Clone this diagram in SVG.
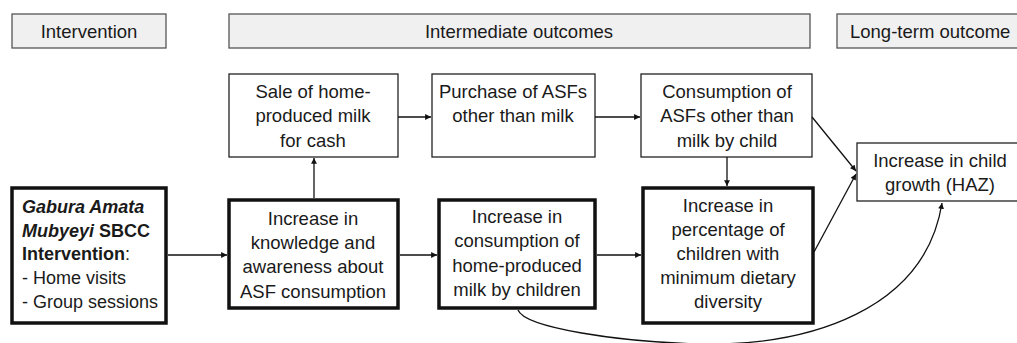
<svg xmlns="http://www.w3.org/2000/svg" width="1017" height="343" viewBox="0 0 1017 343">
<defs>
<style>
text{font-family:"Liberation Sans",Arial,sans-serif;font-size:18.5px;fill:#1a1a1a}
.c{text-anchor:middle}
.hdr{fill:#f0f0f0;stroke:#555;stroke-width:1.3}
.thin{fill:#fff;stroke:#222;stroke-width:1.3}
.thick{fill:#fff;stroke:#111;stroke-width:3.5}
.conn{fill:none;stroke:#111;stroke-width:1.3;marker-end:url(#ah)}
.b{font-weight:bold}
.bi{font-weight:bold;font-style:italic}
.sm{font-size:18px}
</style>
<marker id="ah" viewBox="0 0 10 10" refX="10" refY="5" markerWidth="5" markerHeight="4.5" orient="auto" markerUnits="strokeWidth">
<path d="M0,0 L10,5 L0,10 z" fill="#111"/>
</marker>
</defs>
<rect width="1017" height="343" fill="#fff"/>

<g id="hdr-intervention">
<rect class="hdr" x="12" y="14" width="154" height="34"/>
<text class="c" x="89" y="38">Intervention</text>
</g>
<g id="hdr-intermediate">
<rect class="hdr" x="229" y="14" width="581" height="34"/>
<text class="c" x="519" y="38">Intermediate outcomes</text>
</g>
<g id="hdr-longterm">
<rect class="hdr" x="837" y="14" width="200" height="34"/>
<text x="850" y="38">Long-term outcome</text>
</g>

<g id="n-sale">
<rect class="thin" x="229" y="74" width="169" height="83"/>
<text class="c" x="313" y="98">Sale of home-</text>
<text class="c" x="313" y="122">produced milk</text>
<text class="c" x="313" y="147">for cash</text>
</g>
<g id="n-purchase">
<rect class="thin" x="432" y="74" width="163" height="83"/>
<text class="c" x="513" y="98">Purchase of ASFs</text>
<text class="c" x="513" y="122">other than milk</text>
</g>
<g id="n-consumption">
<rect class="thin" x="641" y="74" width="171" height="83"/>
<text class="c" x="727" y="98">Consumption of</text>
<text class="c" x="727" y="122">ASFs other than</text>
<text class="c" x="727" y="147">milk by child</text>
</g>
<g id="n-growth">
<rect class="thin" x="857" y="143" width="170" height="58"/>
<text class="c" x="940" y="167">Increase in child</text>
<text class="c" x="940" y="191">growth (HAZ)</text>
</g>

<g id="n-intervention">
<rect class="thick" x="12" y="188" width="154" height="135"/>
<text x="22" y="213" class="bi sm">Gabura Amata</text>
<text x="22" y="237" class="sm"><tspan class="bi">Mubyeyi</tspan><tspan class="b"> SBCC</tspan></text>
<text x="22" y="260" class="sm"><tspan class="b">Intervention</tspan>:</text>
<text x="22" y="284" class="sm">- Home visits</text>
<text x="22" y="308" class="sm">- Group sessions</text>
</g>
<g id="n-knowledge">
<rect class="thick" x="229" y="200" width="169" height="108"/>
<text class="c" x="313" y="225">Increase in</text>
<text class="c" x="313" y="249">knowledge and</text>
<text class="c" x="313" y="273">awareness about</text>
<text class="c" x="313" y="298">ASF consumption</text>
</g>
<g id="n-milk">
<rect class="thick" x="439" y="200" width="156" height="108"/>
<text class="c" x="517" y="223">Increase in</text>
<text class="c" x="517" y="247">consumption of</text>
<text class="c" x="517" y="272">home-produced</text>
<text class="c" x="517" y="296">milk by children</text>
</g>
<g id="n-dietary">
<rect class="thick" x="643" y="188" width="170" height="135"/>
<text class="c" x="728" y="212">Increase in</text>
<text class="c" x="728" y="236">percentage of</text>
<text class="c" x="728" y="260">children with</text>
<text class="c" x="728" y="284">minimum dietary</text>
<text class="c" x="728" y="308">diversity</text>
</g>

<g id="connectors">
<path class="conn" d="M168,255 L227,255"/>
<path class="conn" d="M400,255 L437,255"/>
<path class="conn" d="M597,255 L641,255"/>
<path class="conn" d="M314,198 L314,158"/>
<path class="conn" d="M398,117 L431,117"/>
<path class="conn" d="M595,117 L640,117"/>
<path class="conn" d="M727,157 L727,186"/>
<path class="conn" d="M812,117 L856,171"/>
<path class="conn" d="M814,252 L856,174"/>
<path class="conn" d="M518,310 C525,328 620,342 700,344 C810,346 925,310 942,203"/>
</g>
</svg>
